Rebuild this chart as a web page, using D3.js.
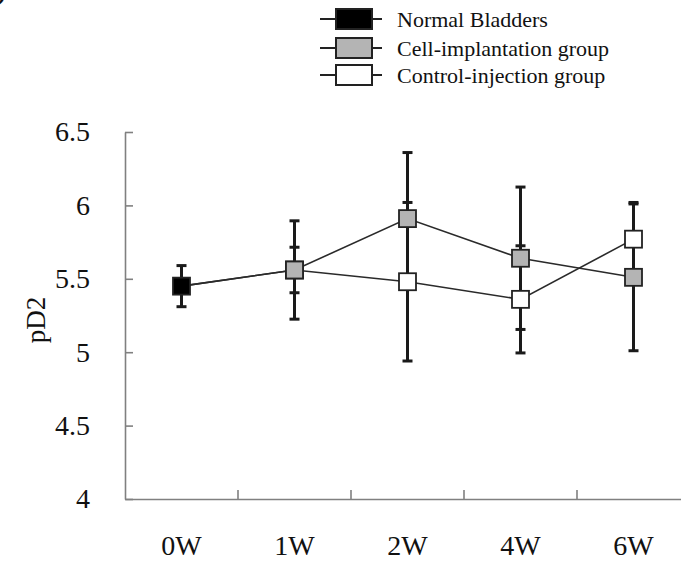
<!DOCTYPE html>
<html lang="en">
<head>
    <meta charset="UTF-8">
    <title>pD2</title>
    <style>
        body { margin: 0; background: #fff; }
        svg { display: block; }
        text { font-family: "Liberation Serif", "Times New Roman", serif; fill: #111; }
    </style>
</head>
<body>
    <div id="chart"></div>

    <script src="https://d3js.org/d3.v7.min.js"></script>
    <script>
        // data
        const categories = ['0W', '1W', '2W', '4W', '6W']
        const yTicks = [4, 4.5, 5, 5.5, 6, 6.5]

        const normalMean = [5.45]
        const normalErr = [0.14]

        const cellMean = [5.45, 5.56, 5.91, 5.64, 5.51]
        const cellErr = [null, 0.155, 0.45, 0.485, 0.50]

        const controlMean = [5.45, 5.56, 5.48, 5.36, 5.77]
        const controlErr = [null, 0.335, 0.54, 0.365, 0.25]

        const legendLabels = ['Normal Bladders', 'Cell-implantation group', 'Control-injection group']
        const legendFills = ['#000', '#b4b4b4', '#fff']

        const width = 681
        const height = 567
        const margin = { top: 132, bottom: 68, left: 125, right: -9 }

        const svg = d3.select('#chart')
            .append('svg')
            .attr('width', width)
            .attr('height', height)

        svg.append('rect').attr('width', width).attr('height', height).attr('fill', '#fff')

        const x = d3.scaleBand()
            .domain(categories)
            .range([margin.left, width - margin.right])

        const y = d3.scaleLinear()
            .domain([4, 6.5])
            .range([height - margin.bottom, margin.top])

        const cx = d => x(d) + x.bandwidth() / 2

        // panel title, cut off by the top edge as in the original
        svg.append('text')
            .attr('x', -3)
            .attr('y', 0)
            .style('font-size', '26px')
            .style('font-weight', 'bold')
            .text(') Detrusor side')

        // axes
        svg.append('g')
            .attr('transform', `translate(${ margin.left }, 0)`)
            .call(d3.axisLeft(y).tickValues(yTicks).tickFormat(d => String(d))
                .tickSizeInner(-8).tickSizeOuter(0).tickPadding(35))

        const xAxis = svg.append('g')
            .attr('transform', `translate(0, ${ height - margin.bottom })`)
            .call(d3.axisBottom(x).tickSize(0).tickPadding(36))

        xAxis.selectAll('.boundary')
            .data(categories.slice(1))
            .enter()
            .append('line')
            .attr('x1', d => x(d))
            .attr('x2', d => x(d))
            .attr('y1', 0)
            .attr('y2', -9)

        svg.selectAll('.domain, g line')
            .attr('stroke', '#808080')
            .attr('stroke-width', 1.6)
        svg.selectAll('.tick text')
            .style('font-size', '28px')
            .attr('fill', '#111')

        svg.append('text')
            .attr('transform', `translate(45, 320) rotate(-90)`)
            .attr('text-anchor', 'middle')
            .style('font-size', '27px')
            .text('pD2')

        // error bars
        const errRows = []
        normalMean.forEach((m, i) => errRows.push({ c: categories[i], m, e: normalErr[i] }))
        cellMean.forEach((m, i) => { if (cellErr[i] != null) errRows.push({ c: categories[i], m, e: cellErr[i] }) })
        controlMean.forEach((m, i) => { if (controlErr[i] != null) errRows.push({ c: categories[i], m, e: controlErr[i] }) })

        const eb = svg.append('g')
            .attr('stroke', '#1a1a1a')
            .attr('stroke-width', 3)
        eb.selectAll('.v')
            .data(errRows)
            .enter()
            .append('line')
            .attr('x1', d => cx(d.c))
            .attr('x2', d => cx(d.c))
            .attr('y1', d => y(d.m + d.e))
            .attr('y2', d => y(d.m - d.e))
        ;[1, -1].forEach(sign => {
            eb.selectAll('.cap')
                .data(errRows)
                .enter()
                .append('line')
                .attr('x1', d => cx(d.c) - 5)
                .attr('x2', d => cx(d.c) + 5)
                .attr('y1', d => y(d.m + sign * d.e))
                .attr('y2', d => y(d.m + sign * d.e))
        })

        // connecting lines
        const line = d3.line()
            .x((d, i) => cx(categories[i]))
            .y(d => y(d))

        ;[controlMean, cellMean].forEach(s => {
            svg.append('path')
                .datum(s)
                .attr('d', line)
                .attr('fill', 'none')
                .attr('stroke', '#2a2a2a')
                .attr('stroke-width', 1.6)
        })

        // markers
        const size = 17
        const drawMarkers = (means, fill, from) => {
            svg.append('g')
                .selectAll('rect')
                .data(means.slice(from).map((m, i) => ({ c: categories[i + from], m })))
                .enter()
                .append('rect')
                .attr('x', d => cx(d.c) - size / 2)
                .attr('y', d => y(d.m) - size / 2)
                .attr('width', size)
                .attr('height', size)
                .attr('fill', fill)
                .attr('stroke', '#222')
                .attr('stroke-width', 1.8)
        }
        drawMarkers(controlMean, legendFills[2], 1)
        drawMarkers(cellMean, legendFills[1], 1)
        drawMarkers(normalMean, legendFills[0], 0)

        // legend
        const legend = svg.append('g')
            .selectAll('g')
            .data(legendLabels)
            .enter()
            .append('g')
            .attr('transform', (d, i) => `translate(354, ${ [19, 48, 75][i] })`)

        legend.append('line')
            .attr('x1', -34).attr('x2', 28)
            .attr('stroke', '#222').attr('stroke-width', 2)
        legend.append('rect')
            .attr('x', -18).attr('y', -10)
            .attr('width', 36).attr('height', 20)
            .attr('fill', (d, i) => legendFills[i])
            .attr('stroke', '#222').attr('stroke-width', 2)
        legend.append('text')
            .attr('x', 43)
            .attr('y', 8)
            .style('font-size', '22px')
            .text(d => d)
    </script>
</body>
</html>
